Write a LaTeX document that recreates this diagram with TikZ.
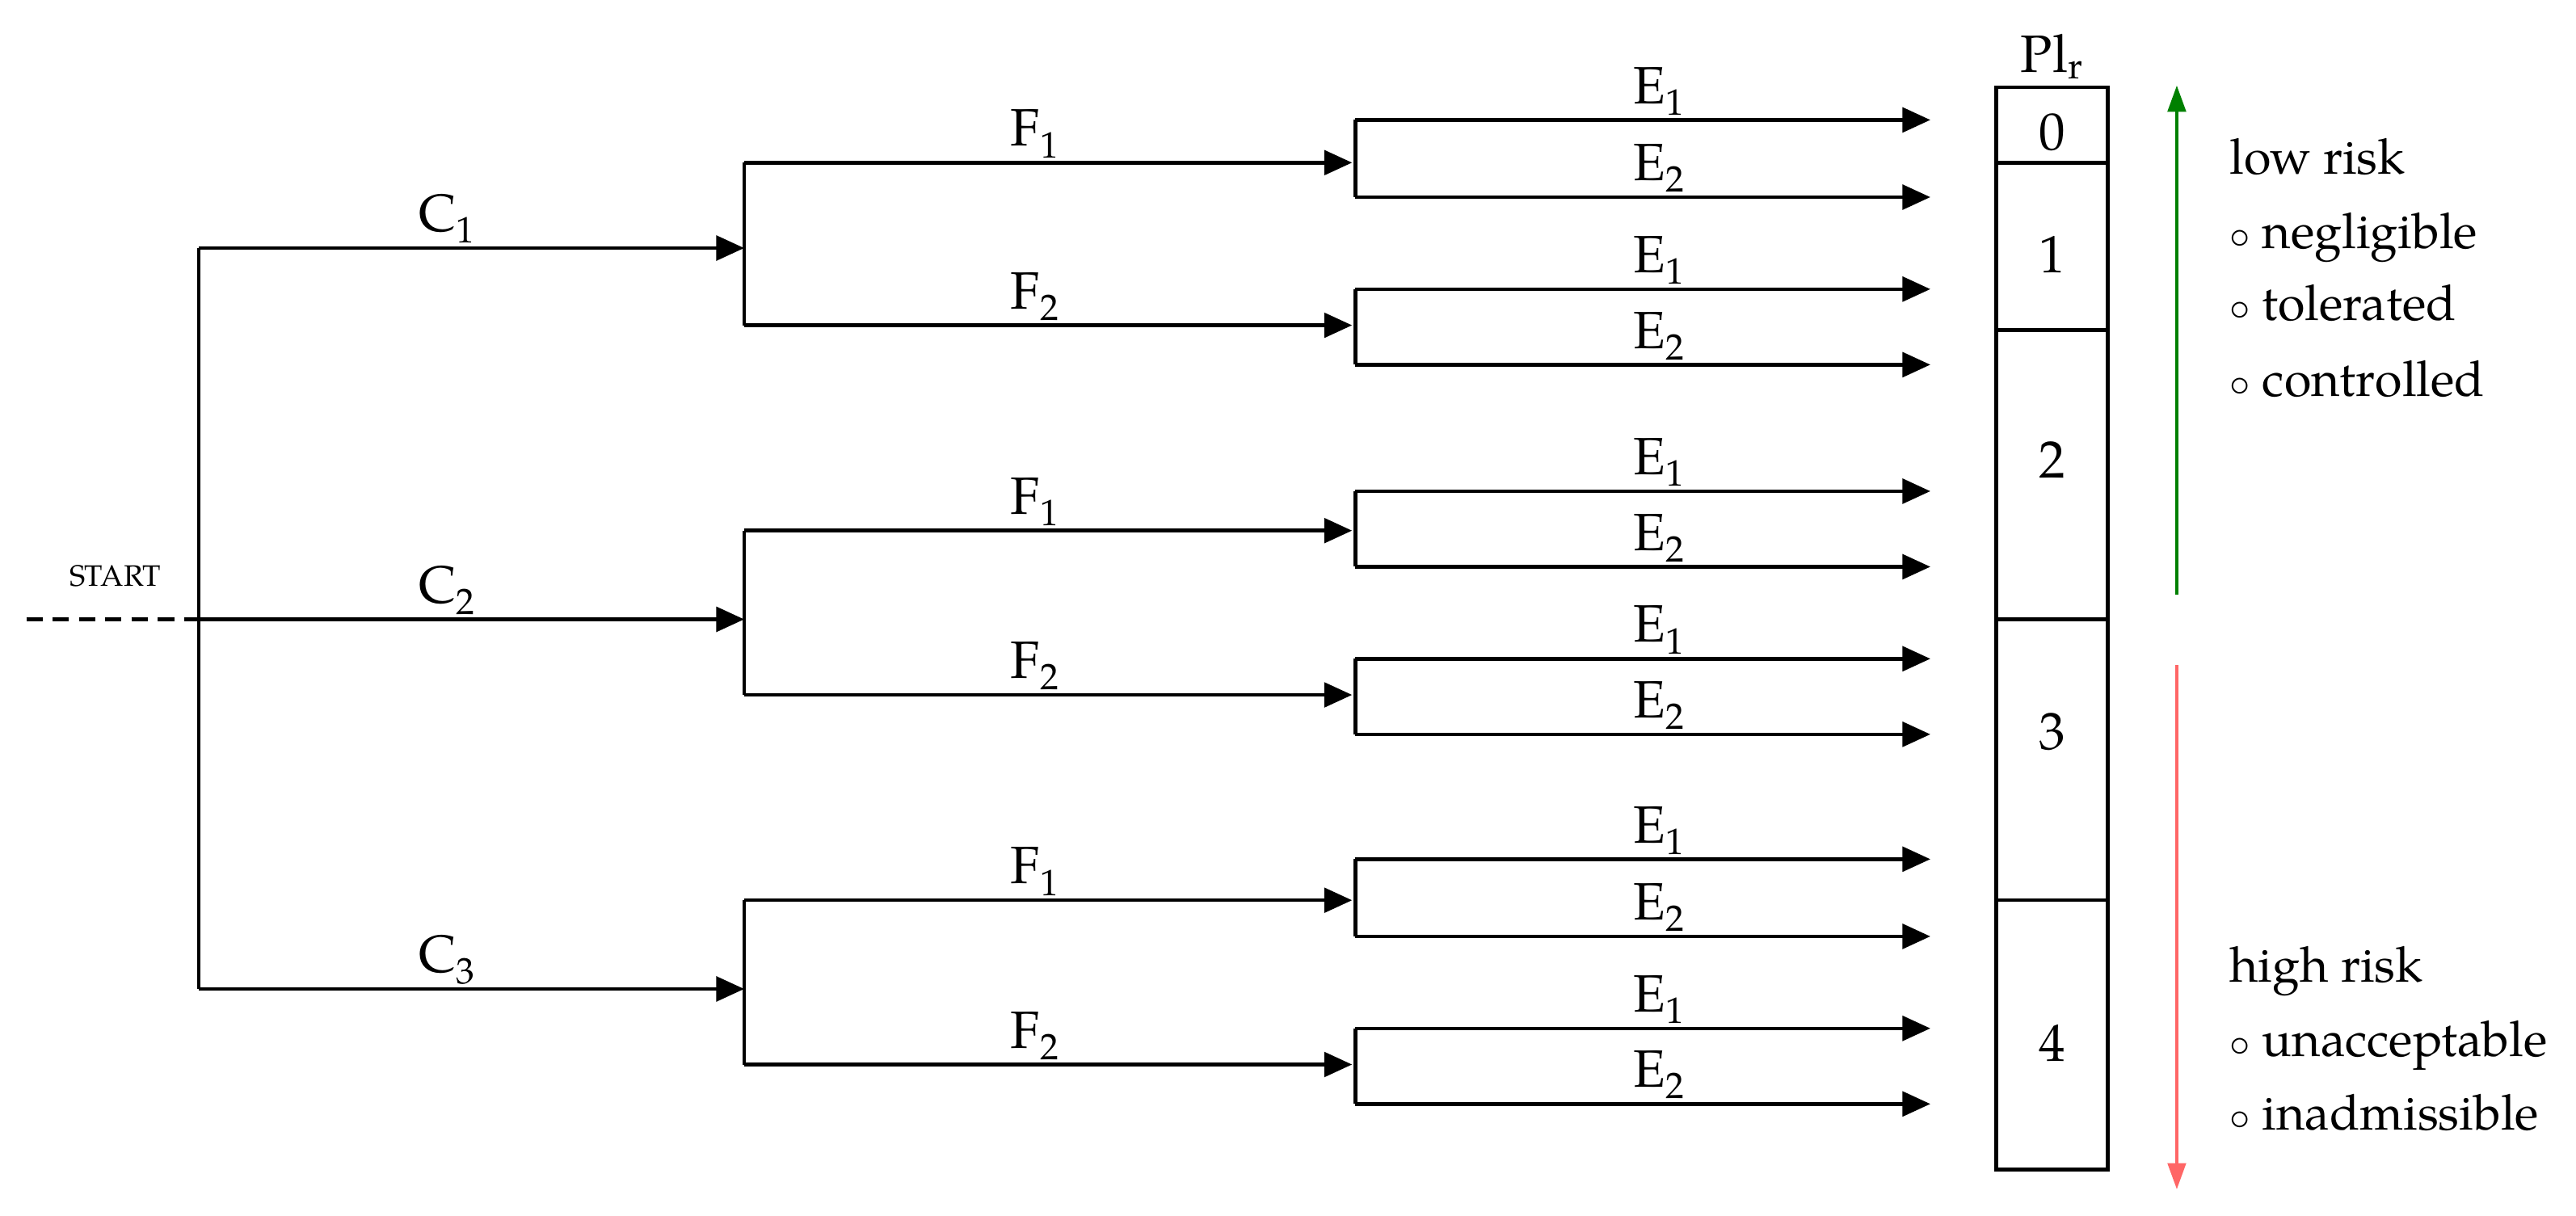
\documentclass[tikz,border=0pt]{standalone}
\usepackage{fontspec}
\setmainfont{TeX Gyre Pagella}
\usetikzlibrary{arrows.meta}
\begin{document}
\begin{tikzpicture}[x=1pt,y=-1pt,
  ln/.style={line width=2.2pt},
  ar/.style={ln,-{Triangle[length=17pt,width=15pt]}},
  lab/.style={font=\fontsize{32}{34}\selectfont, inner sep=0pt, anchor=base},
  txt/.style={font=\fontsize{30}{34}\selectfont, inner sep=0pt, anchor=base west}]
\useasboundingbox (0,0) rectangle (1568,740);
% start
\coordinate (s0) at (16,377);
\coordinate (s) at (121,377);
\coordinate (st) at (121,151);
\coordinate (sb) at (121,602);
\draw[ln,dash pattern=on 10pt off 6pt] (s0) -- (s);
\node[font=\fontsize{18}{20}\selectfont, inner sep=0pt, anchor=base] (start) at (70,357) {START};
\draw[ln] (st) -- (sb);
\foreach \c/\cy in {1/151,2/377,3/602}{
  \coordinate (c\c) at (121,\cy);
  \coordinate (cj\c) at (453,\cy);
  \draw[ar] (c\c) -- (cj\c);
  \node[lab] (cl\c) at (272,\cy-10) {C\textsubscript{\c}};
}
\foreach \g/\fa/\fb in {1/99/198,2/323/423,3/548/648}{
  \coordinate (fa\g) at (453,\fa);
  \coordinate (fb\g) at (453,\fb);
  \draw[ln] (fa\g) -- (fb\g);
  \coordinate (fae\g) at (823,\fa);
  \coordinate (fbe\g) at (823,\fb);
  \draw[ar] (fa\g) -- (fae\g);
  \draw[ar] (fb\g) -- (fbe\g);
  \node[lab] (fla\g) at (630,\fa-10) {F\textsubscript{1}};
  \node[lab] (flb\g) at (630,\fb-10) {F\textsubscript{2}};
}
\foreach \k/\ea/\eb in {1/73/120,2/176/222,3/299/345,4/401/447,5/523/570,6/626/672}{
  \coordinate (ea\k) at (825,\ea);
  \coordinate (eb\k) at (825,\eb);
  \draw[ln] (ea\k) -- (eb\k);
  \coordinate (eae\k) at (1175,\ea);
  \coordinate (ebe\k) at (1175,\eb);
  \draw[ar] (ea\k) -- (eae\k);
  \draw[ar] (eb\k) -- (ebe\k);
  \node[lab] (ela\k) at (1010,\ea-10) {E\textsubscript{1}};
  \node[lab] (elb\k) at (1010,\eb-10) {E\textsubscript{2}};
}
% PL box
\draw[ln] (1215,53) rectangle (1283,712);
\foreach \yy in {99,201,377,548}{\draw[ln] (1215,\yy) -- (1283,\yy);}
\node[lab] (plr) at (1249,44) {Pl\textsubscript{r}};
\foreach \n/\yy in {0/91,1/166,2/291,3/456,4/646}{
  \node[lab] (p\n) at (1249,\yy) {\n};
}
% arrows
\coordinate (ga) at (1325,362);
\coordinate (gb) at (1325,52);
\draw[line width=2pt, green!50!black, -{Triangle[length=16pt,width=11pt]}] (ga) -- (gb);
\coordinate (ra) at (1325,405);
\coordinate (rb) at (1325,724);
\draw[line width=2pt, red!60!white, -{Triangle[length=16pt,width=11pt]}] (ra) -- (rb);
\node[txt] (lr) at (1357,106) {low risk};
\node[txt] (t1) at (1357,151) {$\circ$ negligible};
\node[txt] (t2) at (1357,195) {$\circ$ tolerated};
\node[txt] (t3) at (1357,241) {$\circ$ controlled};
\node[txt] (hr) at (1357,598) {high risk};
\node[txt] (t4) at (1357,643) {$\circ$ unacceptable};
\node[txt] (t5) at (1357,688) {$\circ$ inadmissible};
\end{tikzpicture}
\end{document}
